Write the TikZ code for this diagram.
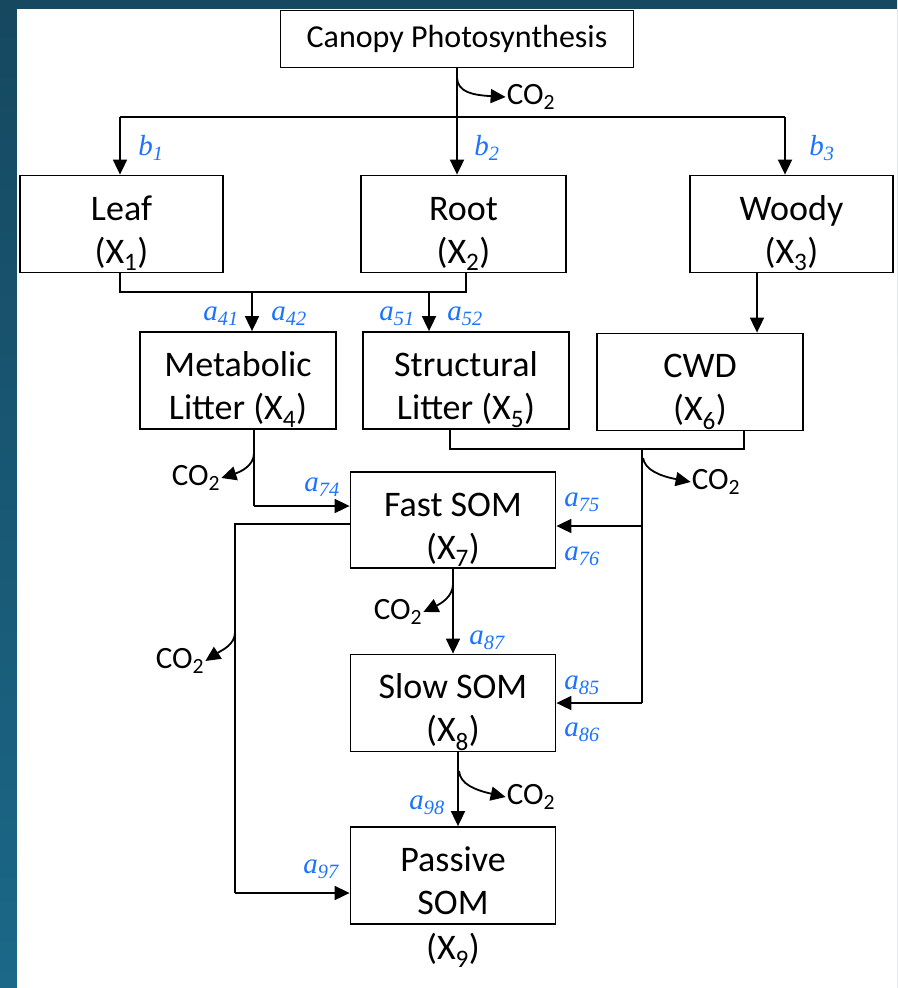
\documentclass[tikz,border=0pt]{standalone}
\usepackage{fontspec}
\setmainfont{Carlito}
\newfontfamily\ratefam{Liberation Serif}
\usepackage{tikz}
\usetikzlibrary{arrows.meta}
\definecolor{rateblue}{RGB}{28,115,255}
\definecolor{frametop}{RGB}{22,72,96}
\definecolor{framebot}{RGB}{27,104,136}
\newcommand{\cotwo}{CO\textsubscript{2}}
\newcommand{\rate}[2]{#1\textsubscript{#2}}
\newcommand{\pool}[3][43pt]{\rule{0pt}{#1}#2\\#3}

\begin{document}
\begin{tikzpicture}[x=1pt,y=-1pt,
  box/.style={draw=black,line width=1.8pt,inner sep=0pt,align=center,
    minimum width=205pt,minimum height=97pt,font=\fontsize{36}{43}\selectfont},
  line/.style={draw=black,line width=1.8pt},
  flow/.style={line,-{Triangle[length=15pt,width=14pt]}},
  gas/.style={inner sep=1pt,font=\fontsize{31}{36}\selectfont},
  rate/.style={inner sep=0pt,text=rateblue,font=\ratefam\itshape\fontsize{29}{34}\selectfont}]
\useasboundingbox (0,0) rectangle (897,988);
% frame
\shade[top color=frametop,bottom color=framebot] (0,0) rectangle (897,988);
\fill[white] (17,9) rectangle (897,988);

% pools
\node[box,minimum width=353pt,minimum height=57pt,font=\fontsize{32}{38}\selectfont]
  (canopy) at (457,39) {Canopy Photosynthesis};
\node[box,minimum width=203pt] (leaf) at (121.5,224) {\pool{Leaf}{(X\textsubscript{1})}};
\node[box] (root) at (463.5,224) {\pool{Root}{(X\textsubscript{2})}};
\node[box,minimum width=203pt] (woody) at (791.5,224) {\pool{Woody}{(X\textsubscript{3})}};
\node[box,minimum width=196pt] (meta) at (238,380.5) {\pool{Metabolic}{Litter (X\textsubscript{4})}};
\node[box,minimum width=206pt] (struct) at (466,380.5) {\pool{Structural}{Litter (X\textsubscript{5})}};
\node[box,minimum width=206pt] (cwd) at (700,382) {\pool{CWD}{(X\textsubscript{6})}};
\node[box,minimum height=96pt] (fast) at (453,520) {\pool{Fast SOM}{(X\textsubscript{7})}};
\node[box] (slow) at (453,703) {\pool{Slow SOM}{(X\textsubscript{8})}};
\node[box] (passive) at (453,875.5) {\pool[36pt]{Passive}{SOM}};
\node[inner sep=0pt,font=\fontsize{36}{43}\selectfont] (x9) at (453,950) {(X\textsubscript{9})};

% allocation
\coordinate (sl) at (120,117);
\coordinate (sr) at (785,117);
\draw[flow] (canopy.south) -- (canopy.south |- root.north);
\draw[line] (sl) -- (sr);
\draw[flow] (sl) -- (sl |- leaf.north);
\draw[flow] (sr) -- (sr |- woody.north);
\node[gas] (co2a) at (531,97) {\cotwo};
\coordinate (c0) at (457,78);
\draw[flow] (c0) .. controls (458,92) and (472,95) .. (co2a.west);
\node[rate] (b1) at (151,148) {\rate{b}{1}};
\node[rate] (b2) at (487,148) {\rate{b}{2}};
\node[rate] (b3) at (822,148) {\rate{b}{3}};

% litter input
\coordinate (m1) at (120,292);
\coordinate (m2) at (466,292);
\coordinate (j1) at (252,292);
\coordinate (j2) at (429,292);
\coordinate (wd) at (757,300);
\draw[line] (m1 |- leaf.south) -- (m1) -- (m2) -- (m2 |- root.south);
\draw[flow] (j1) -- (j1 |- meta.north);
\draw[flow] (j2) -- (j2 |- struct.north);
\draw[flow] (wd |- woody.south) -- (wd |- cwd.north);
\node[rate] (a41) at (221,316) {\rate{a}{41}};
\node[rate] (a42) at (289,316) {\rate{a}{42}};
\node[rate] (a51) at (397,316) {\rate{a}{51}};
\node[rate] (a52) at (465,316) {\rate{a}{52}};

% metabolic to fast
\coordinate (k0) at (254,453);
\coordinate (k1) at (254,506);
\draw[line] (k1 |- meta.south) -- (k1);
\draw[flow] (k1) -- (k1 -| fast.west);
\node[gas] (co2m) at (196,478) {\cotwo};
\draw[flow] (k0) .. controls (254,466) and (240,472) .. (co2m.east);
\node[rate] (a74) at (322,487) {\rate{a}{74}};

% structural and cwd to fast and slow
\coordinate (n1) at (450,449);
\coordinate (n2) at (744,449);
\coordinate (n3) at (642,449);
\coordinate (n5) at (642,526);
\coordinate (n4) at (642,703);
\draw[line] (n1 |- struct.south) -- (n1) -- (n2) -- (n2 |- cwd.south);
\draw[line] (n3) -- (n4);
\draw[flow] (n5) -- (n5 -| fast.east);
\draw[flow] (n4) -- (n4 -| slow.east);
\node[gas] (co2c) at (716,482) {\cotwo};
\coordinate (n0) at (643,458);
\draw[flow] (n0) .. controls (645,470) and (660,476) .. (co2c.west);
\node[rate] (a75) at (582,502) {\rate{a}{75}};
\node[rate] (a76) at (582,556) {\rate{a}{76}};
\node[rate] (a85) at (582,685) {\rate{a}{85}};
\node[rate] (a86) at (582,732) {\rate{a}{86}};

% fast to slow
\draw[flow] (fast.south) -- (fast.south |- slow.north);
\node[gas] (co2f) at (398,612) {\cotwo};
\coordinate (f0) at (453,584);
\draw[flow] (f0) .. controls (453,597) and (440,604) .. (co2f.east);
\node[rate] (a87) at (487,640) {\rate{a}{87}};

% fast to passive
\coordinate (l1) at (235,524);
\coordinate (l2) at (235,893);
\coordinate (l0) at (235,632);
\draw[line] (l1 -| fast.west) -- (l1) -- (l2);
\draw[flow] (l2) -- (l2 -| passive.west);
\node[gas] (co2l) at (180,661) {\cotwo};
\draw[flow] (l0) .. controls (235,645) and (222,650) .. (co2l.east);
\node[rate] (a97) at (321,869) {\rate{a}{97}};

% slow to passive
\coordinate (s1) at (458,780);
\draw[flow] (s1 |- slow.south) -- (s1 |- passive.north);
\node[gas] (co2s) at (531,797) {\cotwo};
\coordinate (s0) at (459,771);
\draw[flow] (s0) .. controls (460,784) and (475,790) .. (co2s.west);
\node[rate] (a98) at (427,805) {\rate{a}{98}};
\end{tikzpicture}
\end{document}
